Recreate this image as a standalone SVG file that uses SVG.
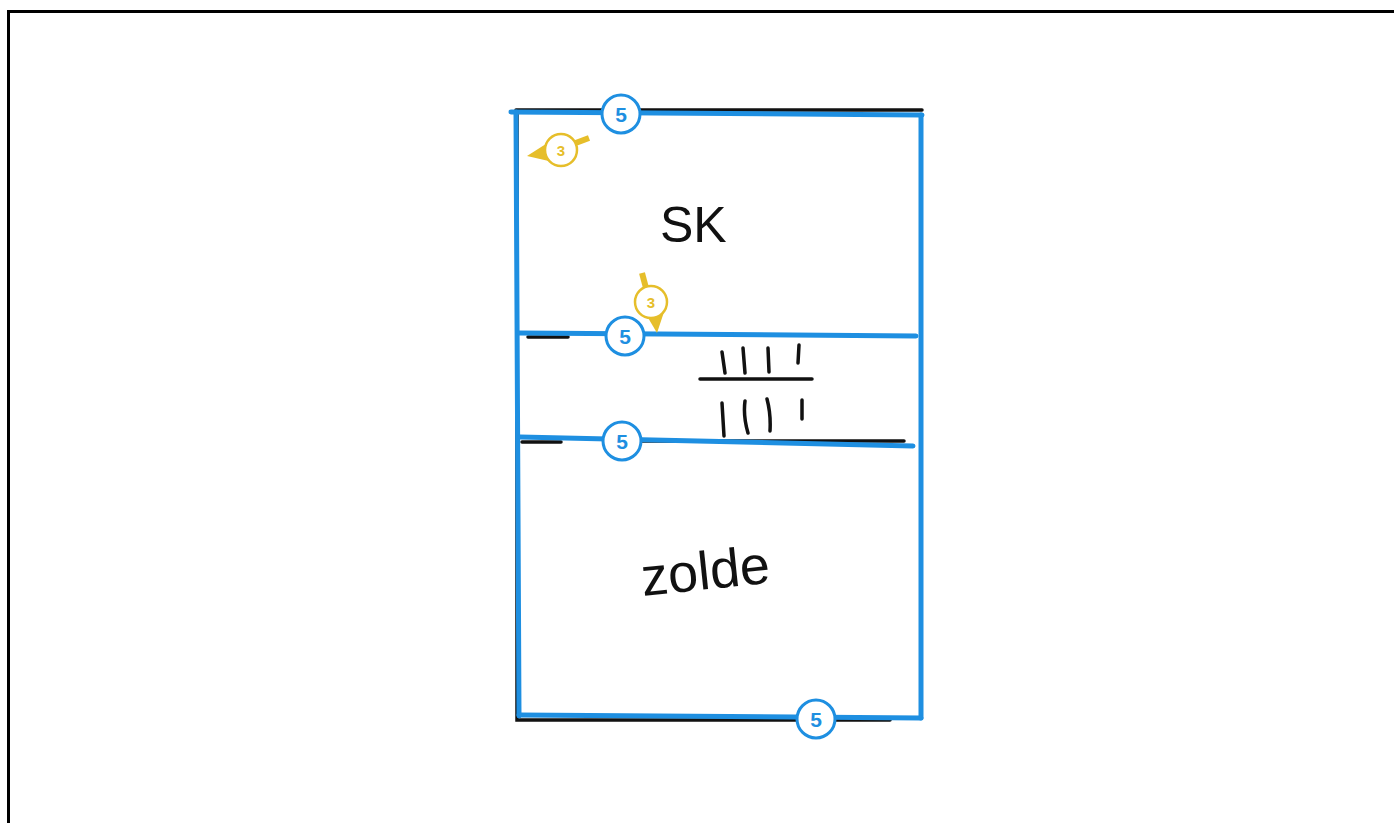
<svg xmlns="http://www.w3.org/2000/svg" width="1394" height="823" viewBox="0 0 1394 823">
<style>
.ink{stroke:#111;stroke-width:3.5;stroke-linecap:round;fill:none}
.wall{stroke:#1E8FE1;stroke-width:5;stroke-linecap:round;fill:none}
.bc{fill:#fff;stroke:#1E8FE1;stroke-width:3}
.bt{fill:#1E8FE1;font-family:"Liberation Sans",Arial,sans-serif;font-weight:bold;font-size:21px;text-anchor:middle}
.yc{fill:#fff;stroke:#E6BE2A;stroke-width:2.5}
.yt{fill:#E6BE2A;font-family:"Liberation Sans",Arial,sans-serif;font-weight:bold;font-size:15px;text-anchor:middle}
.yl{stroke:#E6BE2A;stroke-width:6;fill:none}
.ya{fill:#E6BE2A}
.hand{fill:#111;font-family:"Liberation Sans",Arial,sans-serif}
</style>
<rect x="0" y="0" width="1394" height="823" fill="#fff"/>
<g id="frame">
<path d="M8.5 823 V11.5 H1394" stroke="#000" stroke-width="3" fill="none"/>
</g>
<g id="sketch">
<path class="ink" d="M516 110 H922"/>
<path class="ink" d="M517 112 V720 H890"/>
<path class="ink" d="M528 337 H568"/>
<path class="ink" d="M522 442 H561"/>
<path class="ink" d="M640 441 H904"/>
</g>
<g id="stairs">
<path class="ink" d="M722 352 L725 373 M743 348 L745 373 M768 348 L769 372 M799 345 L798 363"/>
<path class="ink" d="M700 379 H812"/>
<path class="ink" d="M722 403 L724 436 M745 401 Q743 416 748 433 M767 399 Q771 414 770 431 M802 400 V419"/>
</g>
<g id="labels">
<text class="hand" x="660" y="242" font-size="50">SK</text>
<text class="hand" x="643" y="596" font-size="54" transform="rotate(-6 643 596)">zolde</text>
</g>
<g id="connectors">
<path class="wall" d="M511 112 L922 115"/>
<path class="wall" d="M516 112 L519 716"/>
<path class="wall" d="M921 115 L921 718"/>
<path class="wall" d="M519 715 L921 718"/>
<path class="wall" d="M519 333 L916 336"/>
<path class="wall" d="M520 437 L913 446"/>
</g>
<g id="badge-top">
<circle class="bc" cx="621" cy="114" r="19"/>
<text class="bt" x="621" y="121.5">5</text>
</g>
<g id="badge-mid1">
<circle class="bc" cx="625" cy="336" r="19"/>
<text class="bt" x="625" y="343.5">5</text>
</g>
<g id="badge-mid2">
<circle class="bc" cx="622" cy="441" r="19"/>
<text class="bt" x="622" y="448.5">5</text>
</g>
<g id="badge-bottom">
<circle class="bc" cx="816" cy="719" r="19"/>
<text class="bt" x="816" y="726.5">5</text>
</g>
<g id="note-3a">
<path class="yl" d="M573 144 L589 138"/>
<polygon class="ya" points="527,156 549,142 553,162"/>
<circle class="yc" cx="561" cy="150" r="16"/>
<text class="yt" x="561" y="155.5">3</text>
</g>
<g id="note-3b">
<path class="yl" d="M642 273 L646 288"/>
<polygon class="ya" points="657,333 647,316 664,312"/>
<circle class="yc" cx="651" cy="302" r="16"/>
<text class="yt" x="651" y="307.5">3</text>
</g>
</svg>
